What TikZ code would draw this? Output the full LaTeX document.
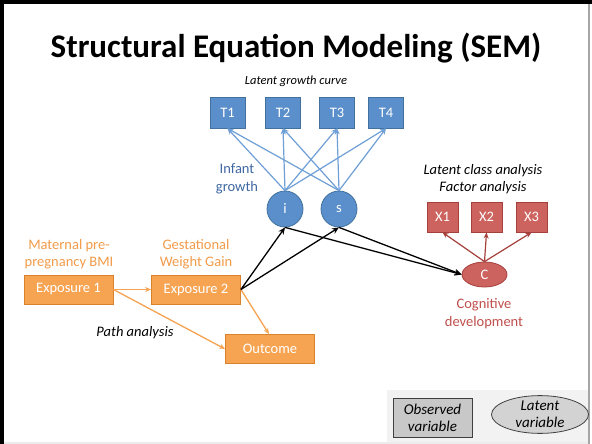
\documentclass[tikz,border=0pt]{standalone}
\usepackage{fontspec}
\setmainfont{Carlito}
\usetikzlibrary{shapes.geometric,arrows.meta}
\definecolor{bluefill}{HTML}{5B8FCB}
\definecolor{blueline}{HTML}{41719C}
\definecolor{bluearrow}{HTML}{6E9FD6}
\definecolor{bluetext}{HTML}{3F68A3}
\definecolor{redfill}{HTML}{CD635F}
\definecolor{redline}{HTML}{A5403C}
\definecolor{redtext}{HTML}{C0504D}
\definecolor{orfill}{HTML}{F6A452}
\definecolor{orline}{HTML}{D9822B}
\definecolor{ortext}{HTML}{F29B4A}
\definecolor{legendbg}{HTML}{F2F2F2}
\definecolor{graybox}{HTML}{C8C8C8}
\tikzset{
  every node/.style={font=\fontsize{14.5}{17.5}\selectfont},
  bluebox/.style={rectangle,draw=blueline,fill=bluefill,line width=0.8pt,text=white,minimum width=35pt,minimum height=31pt,inner sep=0pt},
  bluecirc/.style={circle,draw=blueline,fill=bluefill,line width=0.8pt,text=white,minimum size=36pt,inner sep=0pt},
  redbox/.style={rectangle,draw=redline,fill=redfill,line width=0.8pt,text=white,minimum width=31pt,minimum height=30pt,inner sep=0pt},
  redell/.style={ellipse,draw=redline,fill=redfill,line width=0.8pt,text=white,minimum width=45pt,minimum height=25pt,inner sep=0pt},
  orbox/.style={rectangle,draw=orline,fill=orfill,line width=0.8pt,text=white,minimum width=89pt,minimum height=29pt,inner sep=0pt},
  bluearr/.style={draw=bluearrow,line width=1.2pt,-{Stealth[length=6pt,width=5pt]}},
  redarr/.style={draw=redline,line width=1.2pt,-{Stealth[length=6pt,width=5pt]}},
  orarr/.style={draw=orfill,line width=1.3pt,-{Stealth[length=6pt,width=5pt]}},
  blkarr/.style={draw=black,line width=1.3pt,-{Stealth[length=7pt,width=6pt]}},
  lbl/.style={align=center,inner sep=0pt},
  note/.style={align=center,inner sep=0pt,font=\fontsize{14.5}{17.5}\selectfont\itshape},
  legtext/.style={align=center,inner sep=0pt,font=\fontsize{15}{17}\selectfont\itshape},
}
\begin{document}
\begin{tikzpicture}[x=1pt,y=-1pt]
\useasboundingbox (0,0) rectangle (592,444);
\fill[white] (0,0) rectangle (592,444);
% slide frame
\fill[legendbg] (387,390) rectangle (589,442);
\fill[black] (0,0) rectangle (592,4);
\fill[black] (0,0) rectangle (4,444);
\fill[gray!70] (588,4) rectangle (590,444);
\fill[gray!15] (4,442) rectangle (588,444);

% title
\node[inner sep=0pt,font=\fontsize{33}{36}\selectfont\bfseries] (title) at (296,48) {Structural Equation Modeling (SEM)};

% latent growth curve
\node[note,font=\fontsize{12.5}{14}\selectfont\itshape] (lgc) at (296,81) {Latent growth curve};
\node[bluebox] (t1) at (227.5,112.5) {T1};
\node[bluebox] (t2) at (283,112.5) {T2};
\node[bluebox] (t3) at (337,112.5) {T3};
\node[bluebox] (t4) at (386,112.5) {T4};
\node[bluecirc] (i) at (285,209) {i};
\node[bluecirc] (s) at (339,209) {s};
\node[lbl,text=bluetext] (infant) at (237,179) {Infant\\growth};
\foreach \t in {t1,t2,t3,t4}{
  \draw[bluearr] (i.north) -- (\t.south);
  \draw[bluearr] (s.north) -- (\t.south);
}

% latent class / factor analysis
\node[note] (lca) at (483,179) {Latent class analysis\\Factor analysis};
\node[redbox] (x1) at (442.5,217) {X1};
\node[redbox] (x2) at (486.5,217) {X2};
\node[redbox] (x3) at (531.5,217) {X3};
\node[redell] (c) at (484.5,274.5) {C};
\node[lbl,text=redtext] (cog) at (484,313.5) {Cognitive\\development};
\foreach \x in {x1,x2,x3}{
  \draw[redarr] (c.north) -- (\x.south);
}

% path analysis
\node[lbl,text=ortext] (mat) at (69,254) {Maternal pre-\\pregnancy BMI};
\node[lbl,text=ortext] (gest) at (196,254) {Gestational\\Weight Gain};
\node[orbox] (e1) at (68.5,289.5) {Exposure 1};
\node[orbox] (e2) at (196,289.5) {Exposure 2};
\node[orbox] (out) at (270,349) {Outcome};
\node[note] (path) at (135,333) {Path analysis};
\draw[orarr] (e1.east) -- (e2.west);
\draw[orarr] (e1.east) -- (out.west);
\draw[orarr] (e2.east) -- ([xshift=-1pt]out.north);

% links into and out of the growth factors
\draw[blkarr] (e2.east) -- (i.south);
\draw[blkarr] (e2.east) -- (s.south);
\draw[blkarr] (i.south) -- (c.west);
\draw[blkarr] (s.south) -- (c.west);

% legend
\node[rectangle,draw=black!75,fill=graybox,line width=0.8pt,minimum width=79pt,minimum height=39pt,legtext] (obs) at (432.5,417.5) {Observed\\variable};
\node[ellipse,draw=black!75,fill=graybox!80,line width=0.8pt,minimum width=97pt,minimum height=35pt,legtext] (lat) at (540,414.5) {Latent\\variable};
\end{tikzpicture}
\end{document}
